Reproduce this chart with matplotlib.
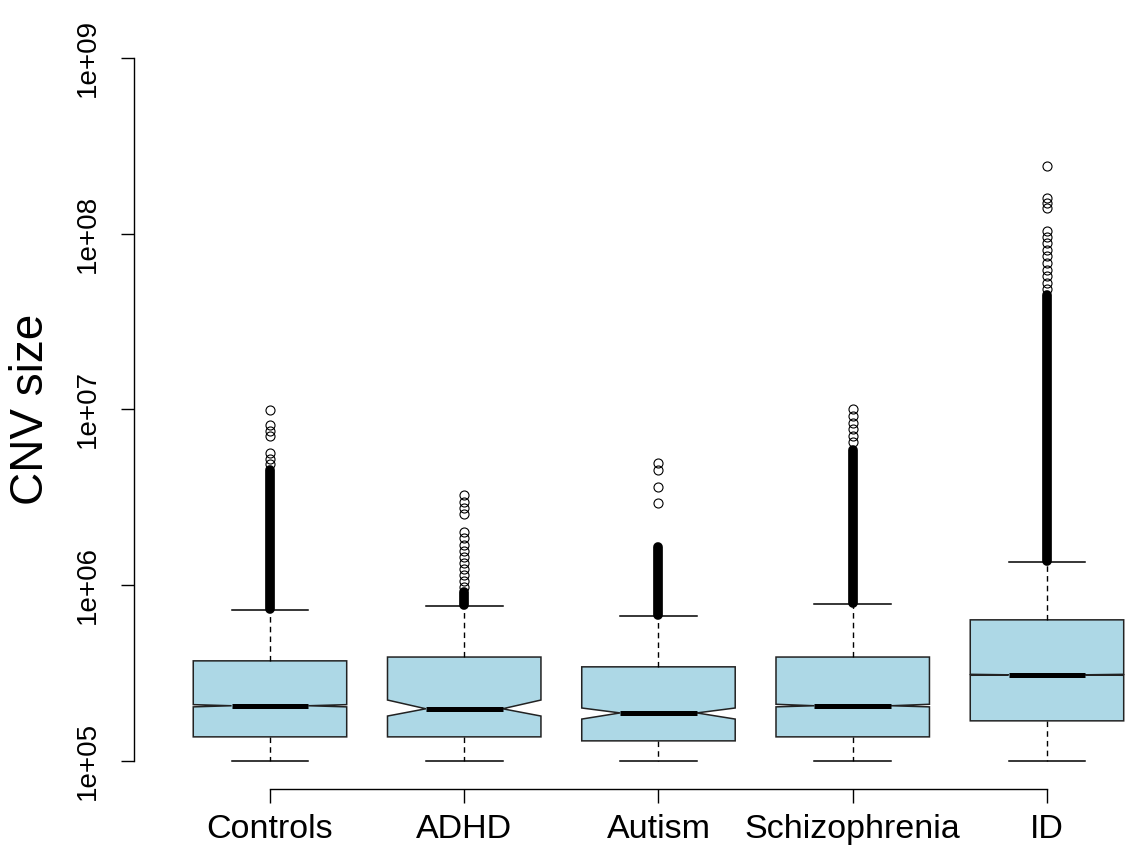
import matplotlib
matplotlib.use("Agg")
import matplotlib.pyplot as plt
import numpy as np

plt.rcParams['font.family'] = ['Liberation Sans', 'DejaVu Sans']

groups = ['Controls', 'ADHD', 'Autism', 'Schizophrenia', 'ID']

# five-number summaries (bp)
whisker_lo = [1.0e5, 1.0e5, 1.0e5, 1.0e5, 1.0e5]
q1 = [1.37e5, 1.37e5, 1.30e5, 1.37e5, 1.69e5]
medians = [2.06e5, 1.98e5, 1.875e5, 2.06e5, 3.09e5]
q3 = [3.71e5, 3.90e5, 3.43e5, 3.90e5, 6.35e5]
whisker_hi = [7.23e5, 7.60e5, 6.68e5, 7.82e5, 1.36e6]

# notch limits around the median
notch_lo = [2.03e5, 1.80e5, 1.73e5, 2.03e5, 3.07e5]
notch_hi = [2.09e5, 2.22e5, 2.00e5, 2.10e5, 3.11e5]

# isolated outliers above the dense run
outliers = [
    [9.9e6, 8.16e6, 7.55e6, 7.06e6, 5.66e6, 5.23e6, 4.89e6],
    [3.26e6, 2.98e6, 2.75e6, 2.54e6, 2.01e6, 1.86e6, 1.69e6, 1.57e6,
     1.45e6, 1.34e6, 1.24e6, 1.14e6, 1.06e6, 9.77e5],
    [4.96e6, 4.53e6, 3.62e6, 2.94e6],
    [1.007e7, 9.18e6, 8.38e6, 7.74e6, 7.07e6, 6.53e6],
    [2.43e8, 1.60e8, 1.50e8, 1.40e8, 1.04e8, 9.58e7, 8.86e7, 8.08e7,
     7.47e7, 6.82e7, 6.22e7, 5.75e7, 5.25e7, 4.85e7],
]
# ranges packed so tightly with outliers that they read as a solid bar
dense_lo = [7.3e5, 7.7e5, 6.75e5, 7.9e5, 1.38e6]
dense_hi = [4.53e6, 9.15e5, 1.65e6, 5.88e6, 4.48e7]

ytick_vals = [1e5, 1e6, 1e7, 1e8, 1e9]
ytick_labels = ['1e+05', '1e+06', '1e+07', '1e+08', '1e+09']

fig = plt.figure(figsize=(11.25, 8.5), dpi=100)
ax = fig.add_axes([134 / 1125, 61 / 850, 991 / 1125, 759 / 850])

stats = []
for i, g in enumerate(groups):
    stats.append(dict(label=g, whislo=whisker_lo[i], q1=q1[i], med=medians[i],
                      q3=q3[i], whishi=whisker_hi[i], cilo=notch_lo[i],
                      cihi=notch_hi[i], fliers=outliers[i]))

pos = np.arange(1, len(groups) + 1)
ax.bxp(stats, positions=pos, widths=0.79, shownotches=True, patch_artist=True,
       boxprops=dict(facecolor='#add8e6', edgecolor='#222222', linewidth=1.1),
       medianprops=dict(color='black', linewidth=3.6, solid_capstyle='butt'),
       whiskerprops=dict(color='black', linewidth=1.0, linestyle=(0, (4, 3))),
       capprops=dict(color='black', linewidth=1.1),
       flierprops=dict(marker='o', markersize=6.5, markerfacecolor='none',
                       markeredgecolor='black', markeredgewidth=0.8))

for i in range(len(groups)):
    ax.plot([pos[i], pos[i]], [dense_lo[i], dense_hi[i]], color='black',
            linewidth=7.0, solid_capstyle='round', zorder=3)

ax.set_yscale('log')
ax.set_ylim(10 ** 4.84, 10 ** 9.16)
ax.set_xlim(0.3, 0.3 + 991 / 194.25)
ax.set_yticks(ytick_vals)
ax.set_yticklabels(ytick_labels, rotation=90, va='center')
ax.yaxis.set_minor_locator(matplotlib.ticker.NullLocator())
ax.set_xticks(pos)
ax.set_xticklabels(groups)

for s in ['top', 'right']:
    ax.spines[s].set_visible(False)
ax.spines['left'].set_bounds(1e5, 1e9)
ax.spines['bottom'].set_bounds(1, 5)
ax.spines['left'].set_linewidth(1.0)
ax.spines['bottom'].set_linewidth(1.0)
ax.tick_params(axis='y', length=9.5, width=1.0, labelsize=20, pad=14)
ax.tick_params(axis='x', length=10, width=1.0, labelsize=24.5, pad=8)

ax.set_ylabel('CNV size', fontsize=33)
ax.yaxis.set_label_coords(-0.082, 0.5)

fig.savefig('out.png', dpi=100)
